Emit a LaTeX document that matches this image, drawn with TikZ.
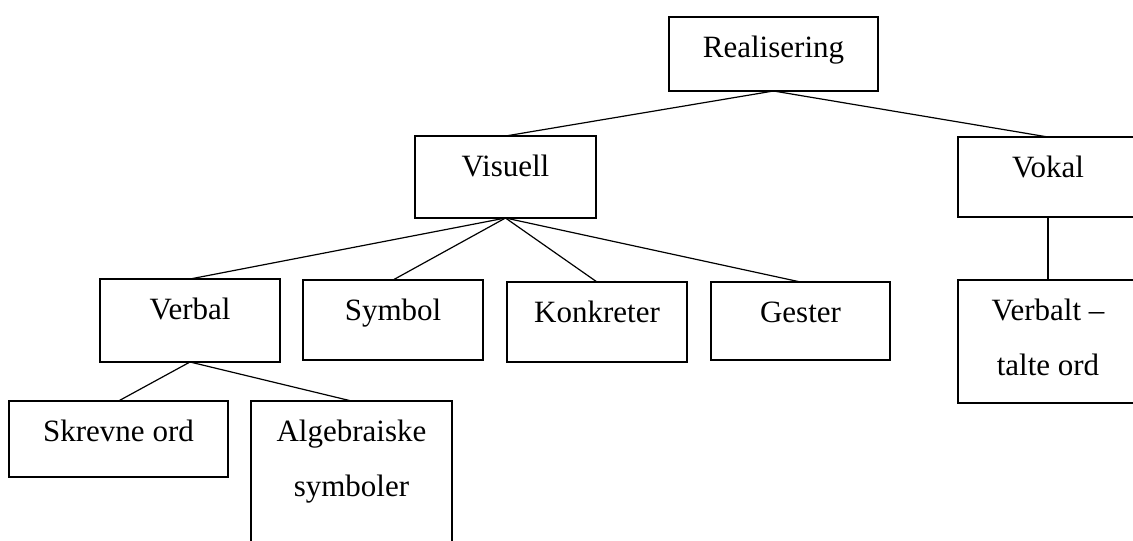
\documentclass[tikz,border=0pt]{standalone}
\usepackage{fontspec}
\setmainfont{Liberation Serif}
\begin{document}
\begin{tikzpicture}[x=1pt,y=-1pt,
  box/.style={draw, line width=2.6pt, anchor=north west, inner sep=0pt, outer sep=0pt},
  conn/.style={line width=1.2pt},
  lbl/.style={anchor=base, inner sep=0pt, font=\fontsize{31}{55}\selectfont}]
\useasboundingbox (0,0) rectangle (1133,541);
\clip (0,0) rectangle (1133,541);
% boxes
\node[box, minimum width=209pt, minimum height=74pt]  (real) at (669,17) {};
\node[box, minimum width=181pt, minimum height=82pt]  (vis)  at (415,136) {};
\node[box, minimum width=180pt, minimum height=80pt]  (vok)  at (958,137) {};
\node[box, minimum width=180pt, minimum height=83pt]  (verb) at (100,279) {};
\node[box, minimum width=180pt, minimum height=80pt]  (sym)  at (303,280) {};
\node[box, minimum width=180pt, minimum height=80pt]  (konk) at (507,282) {};
\node[box, minimum width=179pt, minimum height=78pt]  (gest) at (711,282) {};
\node[box, minimum width=180pt, minimum height=123pt] (tale) at (958,280) {};
\node[box, minimum width=219pt, minimum height=76pt]  (skr)  at (9,401) {};
\node[box, minimum width=201pt, minimum height=170pt] (alg)  at (251,401) {};
% labels
\node[lbl] (treal) at ([yshift=-40pt]real.north) {Realisering};
\node[lbl] (tvis)  at ([yshift=-40pt]vis.north) {Visuell};
\node[lbl] (tvok)  at ([yshift=-40pt]vok.north) {Vokal};
\node[lbl] (tverb) at ([yshift=-40pt]verb.north) {Verbal};
\node[lbl] (tsym)  at ([yshift=-40pt]sym.north) {Symbol};
\node[lbl] (tkonk) at ([yshift=-40pt]konk.north) {Konkreter};
\node[lbl] (tgest) at ([yshift=-40pt]gest.north) {Gester};
\node[lbl] (ttale) at ([yshift=-40pt]tale.north) {\begin{tabular}[t]{@{}c@{}}Verbalt –\\talte ord\end{tabular}};
\node[lbl] (tskr)  at ([yshift=-40pt]skr.north) {Skrevne ord};
\node[lbl] (talg)  at ([yshift=-40pt]alg.north) {\begin{tabular}[t]{@{}c@{}}Algebraiske\\symboler\end{tabular}};
% connectors
\draw[conn] (real.south) -- (vis.north);
\draw[conn] (real.south) -- (vok.north);
\draw[conn] (vok.south) -- (tale.north);
\draw[conn] (vis.south) -- (verb.north);
\draw[conn] (vis.south) -- (sym.north);
\draw[conn] (vis.south) -- (konk.north);
\draw[conn] (vis.south) -- (gest.north);
\draw[conn] (verb.south) -- (skr.north);
\draw[conn] (verb.south) -- (alg.north);
\end{tikzpicture}
\end{document}
